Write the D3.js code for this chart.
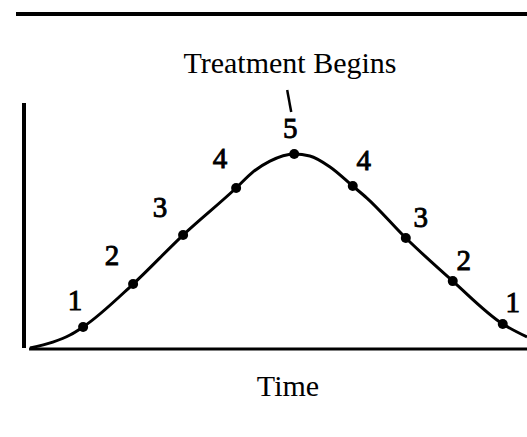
<!DOCTYPE html>
<html>
<head>
<meta charset="utf-8">
<script src="https://cdn.jsdelivr.net/npm/d3@7/dist/d3.min.js"></script>
<style>
  html, body { margin: 0; padding: 0; background: #fff; }
  svg { display: block; }
</style>
</head>
<body>
<script>
// ---- data ----
// curve samples (time, level)
const curveTime  = [1.6, 6.1, 9.5, 12.1, 22.0, 31.9, 42.4, 45.7, 49.1, 53.9, 57.0, 61.0, 65.5, 68.3, 76.0, 85.3, 95.2, 100];
const curveLevel = [0.0, 2.4, 5.3, 8.6, 26.1, 46.1, 65.3, 71.8, 76.3, 79.2, 78.4, 73.9, 66.1, 61.2, 44.9, 27.3, 9.8, 4.5];
// marked stages on the curve
const stageTime  = [12.1, 22.0, 31.9, 42.4, 53.9, 65.5, 76.0, 85.3, 95.2];
const stageLevel = [8.6, 26.1, 46.1, 65.3, 79.2, 66.1, 44.9, 27.3, 9.8];
const stageLabel = ["1", "2", "3", "4", "5", "4", "3", "2", "1"];
const annotation = "Treatment Begins";
const xTitle = "Time";

// ---- drawing ----
const W = 527, H = 437;
const svg = d3.select("body").append("svg").attr("width", W).attr("height", H);

const x = d3.scaleLinear().domain([0, 100]).range([22, 527]);
const y = d3.scaleLinear().domain([0, 100]).range([348, 103]);

const font = "'Liberation Serif', 'Times New Roman', serif";

// top rule
svg.append("line")
  .attr("x1", 16).attr("x2", W).attr("y1", 14).attr("y2", 14)
  .attr("stroke", "#000").attr("stroke-width", 4);

// y axis (bare line)
svg.append("line")
  .attr("x1", x(0) + 2).attr("x2", x(0) + 2)
  .attr("y1", y(100)).attr("y2", y(0))
  .attr("stroke", "#000").attr("stroke-width", 4);

// x axis via d3 axis, no ticks
const xAxis = d3.axisBottom(x).tickValues([]).tickSizeOuter(0);
const gx = svg.append("g").attr("transform", `translate(0,${y(0) + 1})`).call(xAxis);
gx.select(".domain").attr("stroke", "#000").attr("stroke-width", 3)
  .attr("d", `M${x(1.4)},0H${W}`);

// curve
const pts = curveTime.map((t, i) => [t, curveLevel[i]]);
const line = d3.line().x(d => x(d[0])).y(d => y(d[1])).curve(d3.curveMonotoneX);
svg.append("path").datum(pts)
  .attr("d", line)
  .attr("fill", "none").attr("stroke", "#000").attr("stroke-width", 3)
  .attr("stroke-linejoin", "round");

// stage dots
const stages = stageTime.map((t, i) => ({ t, v: stageLevel[i], label: stageLabel[i] }));
svg.selectAll("circle.stage").data(stages).enter().append("circle")
  .attr("class", "stage")
  .attr("cx", d => x(d.t)).attr("cy", d => y(d.v)).attr("r", 5)
  .attr("fill", "#000");

// stage labels (offsets relative to dot)
const off = [[-8, -17], [-21, -19], [-23, -18], [-16, -20], [-4, -16], [11, -16], [15, -11], [11, -11], [10, -12]];
svg.selectAll("text.stage").data(stages).enter().append("text")
  .attr("class", "stage")
  .attr("x", (d, i) => x(d.t) + off[i][0])
  .attr("y", (d, i) => y(d.v) + off[i][1])
  .attr("text-anchor", "middle")
  .attr("font-family", font).attr("font-size", 29)
  .attr("stroke", "#000").attr("stroke-width", 0.9)
  .attr("fill", "#000")
  .text(d => d.label);

// annotation
const peak = stages[4];
svg.append("text")
  .attr("x", 290).attr("y", 73)
  .attr("text-anchor", "middle")
  .attr("font-family", font).attr("font-size", 30)
  .attr("fill", "#000")
  .text(annotation);
svg.append("line")
  .attr("x1", x(peak.t) - 7).attr("y1", 90)
  .attr("x2", x(peak.t) - 3).attr("y2", 112)
  .attr("stroke", "#000").attr("stroke-width", 2.5);

// x title
svg.append("text")
  .attr("x", 288).attr("y", 396)
  .attr("text-anchor", "middle")
  .attr("font-family", font).attr("font-size", 30)
  .attr("fill", "#000")
  .text(xTitle);
</script>
</body>
</html>
